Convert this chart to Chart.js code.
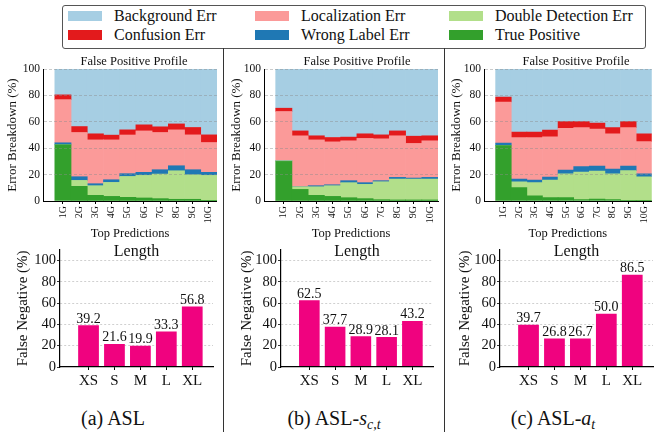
<!DOCTYPE html>
<html>
<head>
<meta charset="utf-8">
<script src="https://cdn.jsdelivr.net/npm/chart.js@4/dist/chart.umd.min.js"></script>
<style>
  body { margin: 0; background: #fff; }
  #page { position: relative; width: 658px; height: 432px; overflow: hidden; font-family: "Liberation Serif", serif; color: #111; }
  canvas { position: absolute; }
  .box { position: absolute; left: 62px; top: 5px; width: 582px; height: 42px; border: 1px solid #555; border-radius: 3px; }
  .patch { position: absolute; width: 34px; height: 10px; }
  .ltext { position: absolute; font-size: 16px; line-height: 18px; white-space: nowrap; }
  .sep { position: absolute; top: 48px; width: 1px; height: 384px; background: #333; }
  .cap { position: absolute; top: 418px; font-size: 20px; transform: translate(-50%, -50%); white-space: nowrap; }
  .cap sub { font-size: 14px; vertical-align: -4px; line-height: 0; }
</style>
</head>
<body>
<div id="page">
  <div class="box"></div>
  <div id="legend"></div>
  <div class="sep" style="left:223px"></div>
  <div class="sep" style="left:444px"></div>
  <canvas id="topA" width="223" height="193" style="left:0px;top:50px"></canvas>
  <canvas id="topB" width="220" height="193" style="left:224px;top:50px"></canvas>
  <canvas id="topC" width="214" height="193" style="left:444px;top:50px"></canvas>
  <canvas id="fnA" width="223" height="160" style="left:0px;top:240px"></canvas>
  <canvas id="fnB" width="220" height="160" style="left:224px;top:240px"></canvas>
  <canvas id="fnC" width="214" height="160" style="left:444px;top:240px"></canvas>
  <div class="cap" style="left:113px">(a) ASL</div>
  <div class="cap" style="left:334px">(b) ASL-<i>s</i><sub><i>c,t</i></sub></div>
  <div class="cap" style="left:553px">(c) ASL-<i>a</i><sub><i>t</i></sub></div>
</div>
<script>
// categories
const topPreds = ["1G", "2G", "3G", "4G", "5G", "6G", "7G", "8G", "9G", "10G"];
const sizes = ["XS", "S", "M", "L", "XL"];
const errNames = ["True Positive", "Double Detection Err", "Wrong Label Err", "Localization Err", "Confusion Err", "Background Err"];
const errColors = ["#33a02c", "#b2df8a", "#1f78b4", "#fb9a99", "#e31a1c", "#a6cee3"];

// (a) ASL - false positive breakdown per top prediction (%)
const tpA   = [42.6, 11.1, 4.3, 3.5, 2.8, 2.3, 1.8, 1.3, 1.3, 0.5];
const ddA   = [0.0, 4.5, 7.3, 10.6, 15.8, 17.1, 18.6, 21.6, 18.6, 18.9];
const wlA   = [1.5, 2.8, 1.5, 2.0, 2.1, 2.3, 3.3, 3.8, 3.8, 2.3];
const locA  = [32.7, 33.5, 33.2, 30.2, 29.3, 31.4, 28.2, 27.2, 26.4, 22.6];
const confA = [3.6, 4.5, 4.6, 3.6, 3.9, 4.6, 4.3, 4.5, 5.6, 5.8];
const bgA   = [19.6, 43.6, 49.1, 50.1, 46.1, 42.3, 43.8, 41.6, 44.3, 49.9];

// (b) ASL-s_{c,t}
const tpB   = [30.0, 8.8, 4.3, 3.5, 2.5, 1.8, 1.0, 0.8, 0.8, 0.8];
const ddB   = [0.5, 2.0, 6.5, 8.1, 11.4, 10.8, 13.6, 15.8, 15.8, 15.8];
const wlB   = [0.0, 0.0, 0.8, 0.7, 1.5, 1.3, 0.8, 1.3, 0.8, 1.3];
const locB  = [37.3, 38.6, 34.7, 32.5, 30.2, 33.5, 31.7, 31.5, 26.2, 27.7];
const confB = [2.5, 3.7, 3.1, 3.3, 2.8, 3.5, 3.0, 3.7, 5.5, 3.8];
const bgB   = [29.7, 46.9, 50.6, 51.9, 51.6, 49.1, 49.9, 46.9, 50.9, 50.6];

// (c) ASL-a_t
const tpC   = [41.9, 10.1, 4.0, 2.5, 2.5, 1.0, 1.5, 1.0, 0.5, 0.3];
const ddC   = [0.0, 4.5, 9.9, 13.4, 18.0, 21.0, 21.2, 19.5, 22.5, 18.1];
const wlC   = [2.0, 2.1, 2.0, 2.3, 3.0, 4.0, 3.8, 3.7, 3.5, 2.1];
const locC  = [31.1, 31.3, 32.1, 30.5, 31.6, 29.6, 28.0, 26.6, 29.1, 24.5];
const confC = [3.8, 4.3, 4.3, 5.1, 5.0, 4.5, 4.6, 4.8, 4.5, 5.8];
const bgC   = [21.2, 47.7, 47.7, 46.2, 39.9, 39.9, 40.9, 44.4, 39.9, 49.2];

// false negative by length (%)
const fnValsA = [39.2, 21.6, 19.9, 33.3, 56.8];
const fnValsB = [62.5, 37.7, 28.9, 28.1, 43.2];
const fnValsC = [39.7, 26.8, 26.7, 50.0, 86.5];

const FONT = '"Liberation Serif", serif';
Chart.defaults.font.family = FONT;
Chart.defaults.color = "#111";

// shared legend (html)
const legendOrder = [5, 3, 1, 4, 2, 0];
const colX = [68, 255, 449];
const rowY = [16, 35];
let lg = "";
legendOrder.forEach((k, n) => {
  const c = n % 3, r = Math.floor(n / 3);
  lg += '<div class="patch" style="left:' + colX[c] + 'px;top:' + (rowY[r] - 5) + 'px;background:' + errColors[k] + '"></div>';
  lg += '<div class="ltext" style="left:' + (colX[c] + 46) + 'px;top:' + (rowY[r] - 9) + 'px">' + errNames[k] + '</div>';
});
document.getElementById("legend").innerHTML = lg;

// titles and bar values drawn inside the panels
const panelText = {
  id: "panelText",
  afterDraw(chart, args, opts) {
    const ctx = chart.ctx;
    const area = chart.chartArea;
    ctx.save();
    ctx.fillStyle = "#111";
    ctx.textAlign = "center";
    if (opts.title) {
      ctx.font = opts.titleSize + "px " + FONT;
      ctx.textBaseline = "middle";
      const x = opts.titleX != null ? opts.titleX : (area.left + area.right) / 2;
      ctx.fillText(opts.title, x, opts.titleY);
    }
    if (opts.values) {
      ctx.font = "14px " + FONT;
      ctx.textBaseline = "alphabetic";
      chart.getDatasetMeta(0).data.forEach((bar, i) => {
        ctx.fillText(opts.values[i].toFixed(1), bar.x, bar.y - 2.5);
      });
    }
    ctx.restore();
  }
};

function topChart(id, segs, g) {
  new Chart(document.getElementById(id), {
    type: "bar",
    data: {
      datasets: segs.map((vals, k) => ({
        label: errNames[k],
        data: vals.map((v, i) => ({ x: i, y: v })),
        backgroundColor: errColors[k],
        borderWidth: 0,
        barPercentage: 1,
        categoryPercentage: 1
      }))
    },
    options: {
      responsive: false,
      animation: false,
      layout: { padding: { left: 0, right: g.padRight, top: 19, bottom: 0 } },
      plugins: {
        legend: { display: false },
        tooltip: { enabled: false },
        panelText: { title: "False Positive Profile", titleSize: 12.5, titleX: g.titleX, titleY: 12 }
      },
      scales: {
        x: {
          type: "linear", stacked: true, min: g.xMin, max: 9.5, offset: false,
          afterBuildTicks: s => { s.ticks = topPreds.map((_, i) => ({ value: i })); },
          afterFit: s => { s.height = 42; },
          ticks: {
            callback: v => topPreds[v], minRotation: 90, maxRotation: 90, autoSkip: false,
            padding: 2, font: { size: 10 }
          },
          grid: { offset: false, drawOnChartArea: false, tickLength: 3, tickColor: "#000" },
          border: { color: "#000", width: 1, z: 2 },
          title: { display: true, text: "Top Predictions", font: { size: 12.5 }, padding: { top: 0, bottom: 1.5 } }
        },
        y: {
          stacked: true, min: 0, max: 100,
          afterFit: s => { s.width = g.yWidth; },
          ticks: { stepSize: 10, padding: 3, font: { size: 11.5 } },
          grid: {
            z: 1, drawTicks: false, lineWidth: 1,
            color: c => (c.tick && c.tick.value === 0) ? "rgba(0,0,0,0)" : "rgba(140,140,140,0.45)"
          },
          border: { color: "#000", width: 1, dash: [3, 2], z: 2 },
          title: { display: true, text: "Error Breakdown (%)", font: { size: 13 }, padding: { top: 5, bottom: 0 } }
        }
      }
    },
    plugins: [panelText]
  });
}

function fnChart(id, vals, g) {
  new Chart(document.getElementById(id), {
    type: "bar",
    data: {
      datasets: [{
        label: "False Negative",
        data: vals.map((v, i) => ({ x: i, y: v })),
        backgroundColor: "#f0027f",
        borderWidth: 0,
        barPercentage: 0.8,
        categoryPercentage: 1
      }]
    },
    options: {
      responsive: false,
      animation: false,
      layout: { padding: { left: 0, right: g.padRight, top: 6, bottom: 0 } },
      plugins: {
        legend: { display: false },
        tooltip: { enabled: false },
        panelText: { title: "Length", titleSize: 16, titleY: 12, values: vals }
      },
      scales: {
        x: {
          type: "linear", min: -1.1, max: 4.8, offset: false,
          afterBuildTicks: s => { s.ticks = sizes.map((_, i) => ({ value: i })); },
          afterFit: s => { s.height = 33; },
          ticks: { callback: v => sizes[v], maxRotation: 0, autoSkip: false, padding: 2, font: { size: 15 } },
          grid: { offset: false, drawOnChartArea: false, tickLength: 3, tickColor: "#000" },
          border: { color: "#000", width: 1.2, z: 2 }
        },
        y: {
          min: 0, max: 110,
          afterFit: s => { s.width = g.yWidth; },
          ticks: { stepSize: 20, includeBounds: false, padding: 1, font: { size: 14.5 } },
          grid: {
            tickLength: 3, tickColor: "#000", lineWidth: 0.8,
            color: c => (c.tick && c.tick.value === 0) ? "rgba(0,0,0,0)" : "#c4c4c4"
          },
          border: { color: "#000", width: 1.2, dash: [2, 2], z: 2 },
          title: { display: true, text: "False Negative (%)", font: { size: 15 }, padding: { top: g.titlePad, bottom: 0 } }
        }
      }
    },
    plugins: [panelText]
  });
}

topChart("topA", [tpA, ddA, wlA, locA, confA, bgA], { yWidth: 43, padRight: 3.5, xMin: -1.23, titleX: 134 });
topChart("topB", [tpB, ddB, wlB, locB, confB, bgB], { yWidth: 40, padRight: 1, xMin: -1.22, titleX: 133 });
topChart("topC", [tpC, ddC, wlC, locC, confC, bgC], { yWidth: 40, padRight: 1, xMin: -1.245, titleX: 132 });

fnChart("fnA", fnValsA, { yWidth: 60, padRight: 10, titlePad: 14 });
fnChart("fnB", fnValsB, { yWidth: 57, padRight: 11, titlePad: 14 });
fnChart("fnC", fnValsC, { yWidth: 56, padRight: 5, titlePad: 12 });
</script>
</body>
</html>
